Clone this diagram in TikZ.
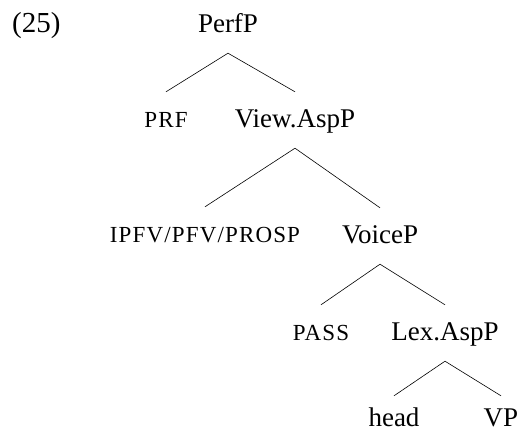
\documentclass[tikz,border=0pt]{standalone}
\usepackage{fontspec}
\setmainfont{Liberation Serif}
\newfontfamily\capsfont[LetterSpace=5]{Liberation Serif}
\newcommand\fsc[1]{{\capsfont\fontsize{23}{23}\selectfont #1}}
\begin{document}
\begin{tikzpicture}[x=1pt,y=1pt,
  every node/.style={font=\fontsize{27}{27}\selectfont},
  cat/.style={anchor=base, inner xsep=0pt, inner ysep=18pt, text height=18pt, text depth=2pt},
  leaf/.style={anchor=base, inner xsep=0pt, inner ysep=0pt, text height=18pt, text depth=0pt},
  branch/.style={line width=0.6pt}]
\useasboundingbox (0,0) rectangle (520,434);
\node[anchor=base west, inner sep=0pt, font=\fontsize{29}{29}\selectfont] (ex) at (12,401) {(25)};
\node[cat] (perf) at (228,401) {PerfP};
\node[cat] (prf) at (166,306) {\fsc{PRF}};
\node[cat] (view) at (295,306) {View.AspP};
\node[cat] (ipfv) at (205,191) {\fsc{IPFV/PFV/PROSP}};
\node[cat] (voice) at (380,190) {VoiceP};
\node[cat] (pass) at (321,93) {\fsc{PASS}};
\node[cat] (lex) at (445,93) {Lex.AspP};
\node[leaf] (head) at (394,7) {head};
\node[leaf] (vp) at (501,7) {VP};
\draw[branch] (perf.south) -- (prf.north);
\draw[branch] (perf.south) -- (view.north);
\draw[branch] (view.south) -- (ipfv.north);
\draw[branch] (view.south) -- (voice.north);
\draw[branch] (voice.south) -- (pass.north);
\draw[branch] (voice.south) -- (lex.north);
\draw[branch] (lex.south) -- ([yshift=13pt]head.north);
\draw[branch] (lex.south) -- ([yshift=13pt]vp.north);
\end{tikzpicture}
\end{document}
